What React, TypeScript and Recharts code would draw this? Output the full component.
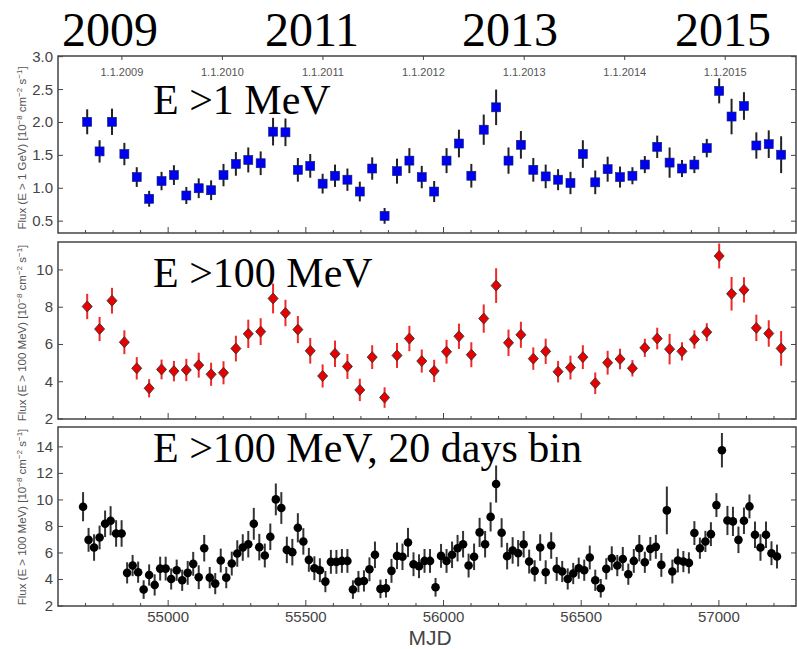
import { ScatterChart, Scatter, XAxis, YAxis, ErrorBar, ReferenceArea, ReferenceDot } from "recharts"

// 45-day bins (top and middle panels)
const mjd45 = [
  54706, 54751, 54796, 54841, 54886, 54931, 54976, 55021, 55066, 55111,
  55156, 55201, 55246, 55291, 55336, 55381, 55426, 55471, 55516, 55561,
  55606, 55651, 55696, 55741, 55786, 55831, 55876, 55921, 55966, 56011,
  56056, 56101, 56146, 56191, 56236, 56281, 56326, 56371, 56416, 56461,
  56506, 56551, 56596, 56641, 56686, 56731, 56776, 56821, 56866, 56911,
  56956, 57001, 57046, 57091, 57136, 57181, 57226,
]

const flux1GeV = [
  2.01, 1.56, 2.01, 1.52, 1.17, 0.84, 1.11, 1.2, 0.89, 1.0,
  0.97, 1.2, 1.37, 1.43, 1.38, 1.86, 1.85, 1.28, 1.34, 1.07,
  1.19, 1.13, 0.95, 1.3, 0.58, 1.26, 1.42, 1.17, 0.95, 1.42,
  1.68, 1.19, 1.89, 2.23, 1.42, 1.66, 1.28, 1.18, 1.13, 1.08,
  1.52, 1.09, 1.29, 1.17, 1.19, 1.36, 1.63, 1.39, 1.3, 1.36,
  1.61, 2.48, 2.09, 2.25, 1.65, 1.67, 1.51,
]
const err1GeV = [
  0.19, 0.17, 0.2, 0.17, 0.15, 0.12, 0.14, 0.15, 0.13, 0.15,
  0.15, 0.17, 0.18, 0.19, 0.18, 0.21, 0.21, 0.18, 0.18, 0.15,
  0.17, 0.17, 0.15, 0.17, 0.12, 0.19, 0.19, 0.17, 0.16, 0.19,
  0.21, 0.18, 0.23, 0.27, 0.2, 0.21, 0.18, 0.18, 0.16, 0.17,
  0.21, 0.18, 0.19, 0.16, 0.13, 0.13, 0.17, 0.23, 0.13, 0.13,
  0.14, 0.19, 0.27, 0.21, 0.2, 0.21, 0.28,
]

const flux100 = [
  8.04, 6.83, 8.35, 6.12, 4.72, 3.65, 4.66, 4.57, 4.63, 4.89,
  4.4, 4.48, 5.78, 6.57, 6.69, 8.47, 7.69, 6.8, 5.66, 4.31,
  5.5, 4.82, 3.56, 5.32, 3.15, 5.41, 6.32, 5.11, 4.58, 5.61,
  6.44, 5.45, 7.39, 9.16, 6.09, 6.52, 5.24, 5.63, 4.54, 4.76,
  5.32, 3.92, 5.02, 5.22, 4.72, 5.82, 6.32, 5.75, 5.63, 6.27,
  6.66, 10.75, 8.72, 8.93, 6.89, 6.59, 5.79,
]
const err100 = [
  0.68, 0.65, 0.69, 0.64, 0.6, 0.49, 0.53, 0.55, 0.6, 0.67,
  0.62, 0.62, 0.69, 0.76, 0.72, 0.8, 0.71, 0.73, 0.69, 0.62,
  0.71, 0.67, 0.6, 0.64, 0.55, 0.67, 0.68, 0.62, 0.6, 0.64,
  0.68, 0.67, 0.76, 0.93, 0.71, 0.7, 0.6, 0.68, 0.58, 0.64,
  0.64, 0.58, 0.64, 0.55, 0.44, 0.49, 0.58, 0.82, 0.49, 0.49,
  0.48, 0.67, 0.9, 0.68, 0.71, 0.71, 0.93,
]

// 20-day bins (bottom panel)
const mjd20 = [
  54691, 54711, 54731, 54751, 54771, 54791, 54811, 54831, 54851, 54871,
  54891, 54911, 54931, 54951, 54971, 54991, 55011, 55031, 55051, 55071,
  55091, 55111, 55131, 55151, 55171, 55191, 55211, 55231, 55251, 55271,
  55291, 55311, 55331, 55351, 55371, 55391, 55411, 55431, 55451, 55471,
  55491, 55511, 55531, 55551, 55571, 55591, 55611, 55631, 55651, 55671,
  55691, 55711, 55731, 55751, 55771, 55791, 55811, 55831, 55851, 55871,
  55891, 55911, 55931, 55951, 55971, 55991, 56011, 56031, 56051, 56071,
  56091, 56111, 56131, 56151, 56171, 56191, 56211, 56231, 56251, 56271,
  56291, 56311, 56331, 56351, 56371, 56391, 56411, 56431, 56451, 56471,
  56491, 56511, 56531, 56551, 56571, 56591, 56611, 56631, 56651, 56671,
  56691, 56711, 56731, 56751, 56771, 56791, 56811, 56831, 56851, 56871,
  56891, 56911, 56931, 56951, 56971, 56991, 57011, 57031, 57051, 57071,
  57091, 57111, 57131, 57151, 57171, 57191, 57211,
]
const flux20 = [
  9.49, 6.99, 6.41, 7.17, 8.2, 8.43, 7.47, 7.47, 4.5, 5.05,
  4.55, 3.24, 4.34, 3.59, 4.82, 4.82, 4.04, 4.7, 3.94, 4.5,
  5.18, 4.17, 6.36, 4.14, 3.69, 5.43, 4.14, 5.2, 5.96, 6.41,
  6.66, 8.2, 6.44, 5.81, 7.22, 10.04, 9.39, 6.23, 6.06, 7.9,
  6.87, 5.48, 4.85, 4.7, 3.84, 5.33, 5.33, 5.4, 5.4, 3.24,
  3.84, 3.89, 4.77, 5.86, 3.29, 3.34, 4.65, 5.78, 5.71, 6.79,
  5.15, 5.0, 5.4, 5.4, 3.41, 5.78, 5.4, 5.86, 6.36, 6.66,
  5.05, 5.71, 7.55, 6.66, 8.72, 11.2, 7.52, 5.76, 6.19, 5.98,
  6.66, 5.35, 4.65, 6.41, 4.55, 6.56, 4.8, 4.6, 4.04, 4.45,
  4.85, 4.7, 5.66, 3.94, 3.34, 4.8, 5.6, 5.05, 5.55, 4.4,
  5.4, 6.36, 5.3, 6.31, 6.46, 5.1, 9.21, 4.6, 5.43, 5.35,
  5.25, 7.5, 6.36, 6.87, 7.42, 9.61, 13.75, 8.45, 8.38, 6.99,
  8.43, 9.51, 7.37, 6.41, 7.37, 5.98, 5.73,
]
const err20 = [
  1.1, 0.9, 1.0, 0.9, 1.0, 1.1, 1.0, 1.0, 0.8, 0.8,
  0.8, 0.7, 0.8, 0.8, 0.9, 0.9, 0.8, 0.8, 0.8, 0.9,
  0.9, 0.9, 1.0, 0.8, 0.8, 0.9, 0.8, 0.9, 1.0, 1.0,
  1.0, 1.2, 1.0, 0.9, 1.0, 1.2, 1.2, 1.0, 1.0, 1.1,
  1.0, 0.9, 0.9, 0.9, 0.8, 0.9, 0.9, 0.9, 0.9, 0.7,
  0.8, 0.8, 0.9, 1.0, 0.7, 0.7, 0.9, 1.0, 1.0, 1.1,
  0.9, 0.9, 0.9, 0.9, 0.7, 0.9, 0.9, 1.0, 1.0, 1.0,
  0.9, 1.0, 1.1, 1.0, 1.1, 1.4, 1.1, 1.0, 1.0, 1.0,
  1.0, 0.9, 0.8, 1.0, 0.9, 1.0, 0.9, 0.8, 0.8, 0.8,
  0.8, 0.8, 0.9, 0.8, 0.7, 0.8, 0.9, 0.8, 0.9, 0.8,
  0.9, 1.0, 0.8, 0.9, 0.9, 0.9, 1.8, 0.9, 0.9, 0.8,
  0.8, 0.9, 0.8, 0.8, 0.9, 0.9, 1.3, 1.1, 1.1, 1.0,
  1.0, 0.9, 1.0, 1.0, 1.0, 0.9, 0.9,
]

const mjdTicks = [
  54700, 54800, 54900, 55000, 55100, 55200, 55300, 55400, 55500, 55600,
  55700, 55800, 55900, 56000, 56100, 56200, 56300, 56400, 56500, 56600,
  56700, 56800, 56900, 57000, 57100, 57200,
]
const dateLabels = ["1.1.2009", "1.1.2010", "1.1.2011", "1.1.2012", "1.1.2013", "1.1.2014", "1.1.2015"]
const dateMjd = [54832, 55197, 55562, 55927, 56293, 56658, 57023]

const ticks1GeV = [0.5, 1.0, 1.5, 2.0, 2.5, 3.0]
const ticks100 = [2, 4, 6, 8, 10]
const ticks20 = [2, 4, 6, 8, 10, 12, 14]

const W = 797
const PLOT_LEFT = 58
const PLOT_RIGHT = 796
const X_DOMAIN: [number, number] = [54600, 57280]
const FRAME = "#444"
const SANS = "'Liberation Sans', Arial, sans-serif"
const SERIF = "'Liberation Serif', 'Times New Roman', serif"

const Square = (p: any) => (
  <rect x={p.cx - 4.5} y={p.cy - 4.5} width={9} height={9} fill="#0000f0" stroke="#10206a" strokeWidth={0.6} />
)
const Diamond = (p: any) => (
  <path
    d={`M${p.cx},${p.cy - 5.5} L${p.cx + 5},${p.cy} L${p.cx},${p.cy + 5.5} L${p.cx - 5},${p.cy} Z`}
    fill="#e80000"
    stroke="#333"
    strokeWidth={0.9}
  />
)
const Dot = (p: any) => <circle cx={p.cx} cy={p.cy} r={4.3} fill="#000" />

interface PanelProps {
  top: number
  height: number
  plotTop: number
  plotBottom: number
  xAxisHeight: number
  mjd: number[]
  flux: number[]
  err: number[]
  yDomain: [number, number]
  yTicks: number[]
  yFormat: (v: number) => string
  shape: (p: any) => any
  errColor: string
  xLabels?: boolean
  dates?: boolean
}

function Panel(props: PanelProps) {
  const { top, height, plotTop, plotBottom, xAxisHeight, yDomain } = props
  const pb = plotBottom - top
  const rows = props.mjd.map((m, i) => ({ x: m, y: props.flux[i], err: props.err[i] }))

  const xTick = (t: any) => {
    const v = t.payload.value
    const major = v % 500 === 0
    return (
      <g>
        <line x1={t.x} x2={t.x} y1={pb} y2={pb - (major ? 6 : 3)} stroke={FRAME} strokeWidth={1} />
        {props.xLabels && major && (
          <text x={t.x} y={pb + 16} textAnchor="middle" fontSize={15} fill="#444" fontFamily={SANS}>
            {v}
          </text>
        )}
      </g>
    )
  }
  const yTick = (t: any) => (
    <g>
      <line x1={PLOT_LEFT} x2={PLOT_LEFT + 5} y1={t.y} y2={t.y} stroke={FRAME} strokeWidth={1} />
      <line x1={PLOT_RIGHT - 5} x2={PLOT_RIGHT} y1={t.y} y2={t.y} stroke={FRAME} strokeWidth={1} />
      <text x={PLOT_LEFT - 5} y={t.y} dy={5} textAnchor="end" fontSize={15} fill="#444" fontFamily={SANS}>
        {props.yFormat(t.payload.value)}
      </text>
    </g>
  )

  return (
    <div style={{ position: "absolute", left: 0, top, width: W, height }}>
      <ScatterChart
        width={W}
        height={height}
        margin={{ top: plotTop - top, right: W - PLOT_RIGHT, left: 0, bottom: height - pb - xAxisHeight }}
      >
        <XAxis
          type="number"
          dataKey="x"
          domain={X_DOMAIN}
          ticks={mjdTicks}
          interval={0}
          allowDataOverflow
          axisLine={false}
          tickLine={false}
          height={xAxisHeight}
          tick={xTick}
        />
        <YAxis
          type="number"
          dataKey="y"
          domain={yDomain}
          ticks={props.yTicks}
          interval={0}
          allowDataOverflow
          axisLine={false}
          tickLine={false}
          width={PLOT_LEFT}
          tick={yTick}
        />
        <ReferenceArea
          x1={X_DOMAIN[0]}
          x2={X_DOMAIN[1]}
          y1={yDomain[0]}
          y2={yDomain[1]}
          fill="none"
          stroke={FRAME}
          strokeWidth={1.5}
        />
        {props.dates &&
          dateMjd.map((m, i) => (
            <ReferenceDot
              key={m}
              x={m}
              y={yDomain[1]}
              r={0}
              ifOverflow="visible"
              shape={(p: any) => (
                <g>
                  <line x1={p.cx} x2={p.cx} y1={p.cy} y2={p.cy + 4} stroke={FRAME} />
                  <text x={p.cx} y={p.cy + 20} textAnchor="middle" fontSize={11} fill="#555" fontFamily={SANS}>
                    {dateLabels[i]}
                  </text>
                </g>
              )}
            />
          ))}
        <Scatter data={rows} dataKey="y" shape={props.shape} isAnimationActive={false}>
          <ErrorBar dataKey="err" direction="y" width={0} stroke={props.errColor} strokeWidth={2} />
        </Scatter>
      </ScatterChart>
    </div>
  )
}

const sup = (s: string) => (
  <tspan baselineShift="super" fontSize={8}>
    {s}
  </tspan>
)

export default function App() {
  return (
    <div style={{ position: "absolute", left: 0, top: 0, width: W, height: 649, background: "#fff", overflow: "hidden" }}>
      <Panel
        top={0}
        height={240}
        plotTop={56}
        plotBottom={233}
        xAxisHeight={1}
        mjd={mjd45}
        flux={flux1GeV}
        err={err1GeV}
        yDomain={[0.32, 3.01]}
        yTicks={ticks1GeV}
        yFormat={(v) => v.toFixed(1)}
        shape={Square}
        errColor="#222"
        dates
      />
      <Panel
        top={236}
        height={190}
        plotTop={242}
        plotBottom={419}
        xAxisHeight={1}
        mjd={mjd45}
        flux={flux100}
        err={err100}
        yDomain={[2, 11.5]}
        yTicks={ticks100}
        yFormat={(v) => String(v)}
        shape={Diamond}
        errColor="#f02828"
      />
      <Panel
        top={422}
        height={227}
        plotTop={427}
        plotBottom={606}
        xAxisHeight={30}
        mjd={mjd20}
        flux={flux20}
        err={err20}
        yDomain={[2, 15.5]}
        yTicks={ticks20}
        yFormat={(v) => String(v)}
        shape={Dot}
        errColor="#333"
        xLabels
      />
      <svg width={W} height={649} style={{ position: "absolute", left: 0, top: 0, pointerEvents: "none" }}>
        <g fontFamily={SERIF} fontSize={48} fill="#000" textAnchor="middle">
          <text x={110} y={46}>2009</text>
          <text x={312} y={46}>2011</text>
          <text x={510} y={46}>2013</text>
          <text x={723} y={46}>2015</text>
        </g>
        <g fontFamily={SERIF} fontSize={42} fill="#000">
          <text x={153} y={114}>{"E >1 MeV"}</text>
          <text x={153} y={287}>{"E >100 MeV"}</text>
          <text x={153} y={462}>{"E >100 MeV, 20 days bin"}</text>
        </g>
        <g fontFamily={SANS} fontSize={11.5} fill="#555" textAnchor="middle">
          <text transform="translate(26,148) rotate(-90)">
            {"Flux (E > 1 GeV) [10"}
            {sup("−8")}
            {" cm"}
            {sup("−2")}
            {" s"}
            {sup("−1")}
            {"]"}
          </text>
          <text transform="translate(26,333) rotate(-90)">
            {"Flux (E > 100 MeV) [10"}
            {sup("−8")}
            {" cm"}
            {sup("−2")}
            {" s"}
            {sup("−1")}
            {"]"}
          </text>
          <text transform="translate(26,517) rotate(-90)">
            {"Flux (E > 100 MeV) [10"}
            {sup("−8")}
            {" cm"}
            {sup("−2")}
            {" s"}
            {sup("−1")}
            {"]"}
          </text>
        </g>
        <text x={430} y={645} textAnchor="middle" fontFamily={SANS} fontSize={21} fill="#444">
          MJD
        </text>
      </svg>
    </div>
  )
}
